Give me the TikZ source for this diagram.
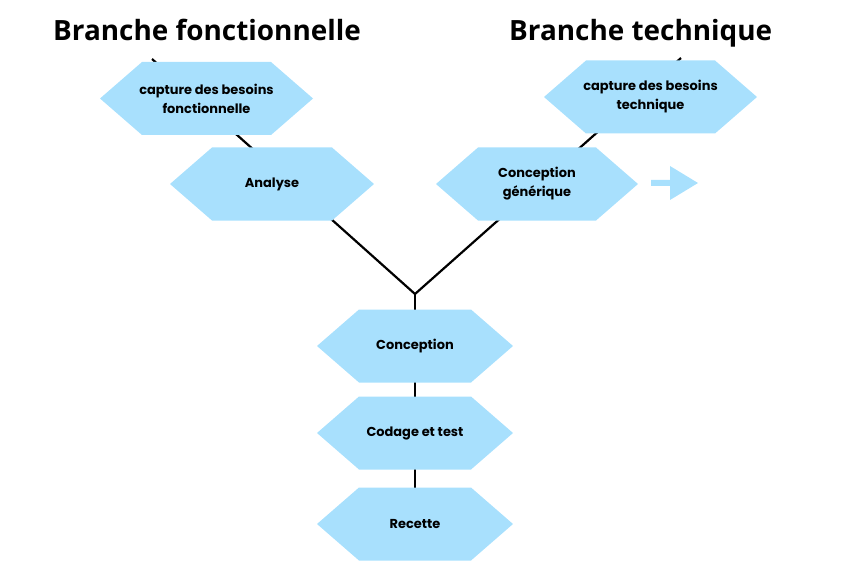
\documentclass[tikz,border=0pt]{standalone}
\usepackage{fontspec}
\setmainfont{Poppins}
\newfontfamily\titlefont{Open Sans}
\usetikzlibrary{backgrounds}
\definecolor{hexblue}{RGB}{168,224,253}
\tikzset{
  hexbox/.style={minimum width=#1, minimum height=73bp, inner sep=0pt, align=center,
    font=\fontsize{13}{19}\selectfont\bfseries,
    path picture={\fill[hexblue] (path picture bounding box.west)
      -- ([xshift=42bp]path picture bounding box.north west)
      -- ([xshift=-42bp]path picture bounding box.north east)
      -- (path picture bounding box.east)
      -- ([xshift=-42bp]path picture bounding box.south east)
      -- ([xshift=42bp]path picture bounding box.south west) -- cycle;}},
  hexbox/.default=204bp,
  link/.style={line width=2.2bp, draw=black},
  title/.style={font=\titlefont\fontsize{28}{33}\selectfont\bfseries, anchor=base west, inner sep=0pt}
}
\begin{document}
\begin{tikzpicture}[x=1bp,y=-1bp]
\useasboundingbox (0,0) rectangle (842,575);
\node[title] (t1) at (53,41) {Branche fonctionnelle};
\node[title] (t2) at (509,41) {Branche technique};

\node[hexbox=213bp] (capf) at (206.5,98.5) {capture des besoins\\fonctionnelle};
\node[hexbox=204bp] (ana) at (272,184) {Analyse};
\node[hexbox=213bp] (capt) at (650.5,97) {capture des besoins\\technique};
\node[hexbox=202bp] (cgen) at (537,184) {Conception\\générique};
\node[hexbox=196bp] (conc) at (415,346) {Conception};
\node[hexbox=196bp] (cod) at (415,433) {Codage et test};
\node[hexbox=196bp] (rec) at (415,524) {Recette};

\coordinate (apex) at (415,294);
\coordinate (topL) at (152,59);
\coordinate (topR) at (681,58);
\begin{scope}[on background layer]
  \draw[link] (topL) -- (apex) -- (topR);
  \draw[link] (apex) -- (rec.center);
\end{scope}

\fill[hexblue] (651,180) -- (670,180) -- (670,166) -- (698,183) -- (670,200) -- (670,186) -- (651,186) -- cycle;
\end{tikzpicture}
\end{document}
